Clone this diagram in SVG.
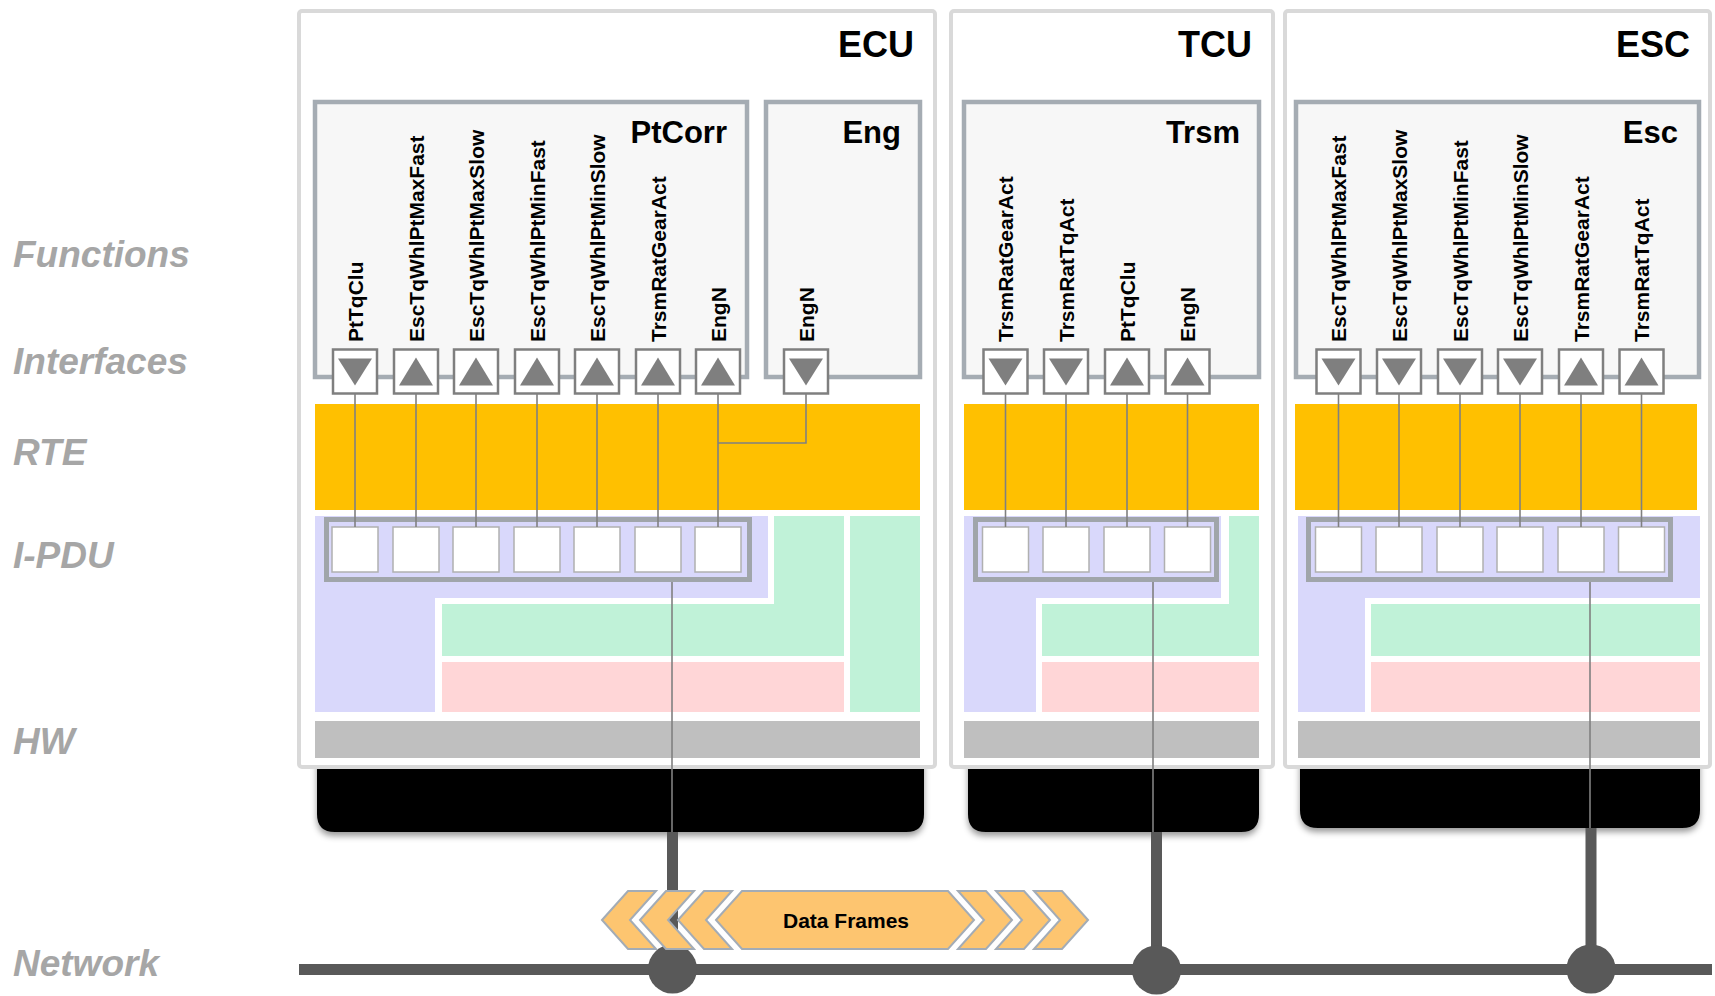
<svg xmlns="http://www.w3.org/2000/svg" xmlns:xlink="http://www.w3.org/1999/xlink" width="1715" height="996" viewBox="0 0 1715 996">
  <style>
    .layer { font-family: "Liberation Sans", Arial, sans-serif; font-weight: bold; font-style: italic; font-size: 37px; fill: #a6a6a6; }
    .title { font-family: "Liberation Sans", Arial, sans-serif; font-weight: bold; font-size: 36px; fill: #000; text-anchor: end; }
    .swc-name { font-family: "Liberation Sans", Arial, sans-serif; font-weight: bold; font-size: 31px; fill: #000; text-anchor: end; }
    .sig { font-family: "Liberation Sans", Arial, sans-serif; font-weight: bold; font-size: 21px; fill: #000; }
    .df { font-family: "Liberation Sans", Arial, sans-serif; font-weight: bold; font-size: 21px; fill: #000; text-anchor: middle; }
    .ecu { fill: #fff; stroke: #d9d9d9; stroke-width: 4; }
    .swc { fill: #f7f7f7; stroke: #a5acb3; stroke-width: 4.5; }
    .rte { fill: #ffc000; }
    .com { fill: #d9d8fb; }
    .drv { fill: #c0f2d8; }
    .mcal { fill: #ffd6d7; }
    .hw { fill: #bfbfbf; }
    .board { fill: #050505; filter: url(#shadow); }
    .frame { fill: none; stroke: #a0a5aa; stroke-width: 5; }
    .wire { fill: none; stroke: #808080; stroke-width: 1.6; }
    .bus { fill: none; stroke: #595959; stroke-width: 11; }
    .node { fill: #595959; }
    .chev { fill: #fdc570; stroke: #a3acb6; stroke-width: 2; stroke-linejoin: miter; }
  </style>
  <defs>
    <filter id="shadow" x="-5%" y="-20%" width="110%" height="150%">
      <feDropShadow dx="0" dy="4" stdDeviation="3" flood-color="#000" flood-opacity="0.4"/>
    </filter>
    <!-- receiver port (arrow down) and sender port (arrow up) -->
    <g id="portIn">
      <rect x="-22" y="0" width="44" height="44" fill="#fff" stroke="#7f7f7f" stroke-width="2.5"/>
      <path d="M-17,9 H17 L0,36 Z" fill="#7f7f7f"/>
    </g>
    <g id="portOut">
      <rect x="-22" y="0" width="44" height="44" fill="#fff" stroke="#7f7f7f" stroke-width="2.5"/>
      <path d="M-17,36 H17 L0,8 Z" fill="#7f7f7f"/>
    </g>
    <!-- signal slot inside an I-PDU -->
    <rect id="slot" x="-23" y="0" width="46" height="45" fill="#fff" stroke="#b0b0b0" stroke-width="1.5"/>
  </defs>

  <rect width="1715" height="996" fill="#fff"/>

  <!-- layer captions -->
  <g id="layers">
    <text class="layer" x="13" y="267">Functions</text>
    <text class="layer" x="13" y="374">Interfaces</text>
    <text class="layer" x="13" y="465">RTE</text>
    <text class="layer" x="13" y="568">I-PDU</text>
    <text class="layer" x="13" y="754">HW</text>
    <text class="layer" x="13" y="976">Network</text>
  </g>

  <!-- ECU -->
  <g id="ecu">
    <path class="board" d="M317,740 H924 V814 Q924,832 906,832 H335 Q317,832 317,814 Z"/>
    <rect class="ecu" x="299" y="11" width="636" height="756" rx="3"/>
    <text class="title" x="914" y="57">ECU</text>
    <rect class="rte" x="315" y="404" width="605" height="106"/>
    <path class="com" d="M315,516 H768 V598 H435 V712 H315 Z"/>
    <path class="drv" d="M774,516 H844 V656 H442 V604 H774 Z"/>
    <rect class="drv" x="850" y="516" width="70" height="196"/>
    <rect class="mcal" x="442" y="662" width="402" height="50"/>
    <rect class="hw" x="315" y="721" width="605" height="37"/>
    <rect class="frame" x="326.5" y="519.5" width="423" height="60"/>
    <use href="#slot" x="355" y="527"/>
    <use href="#slot" x="416" y="527"/>
    <use href="#slot" x="476" y="527"/>
    <use href="#slot" x="537" y="527"/>
    <use href="#slot" x="597" y="527"/>
    <use href="#slot" x="658" y="527"/>
    <use href="#slot" x="718" y="527"/>
  </g>
  <g id="ecu-ptcorr">
    <rect class="swc" x="315" y="102" width="432" height="275"/>
    <text class="swc-name" x="727" y="143">PtCorr</text>
    <text class="sig" transform="translate(362.5,342) rotate(-90)">PtTqClu</text>
    <text class="sig" transform="translate(423.5,342) rotate(-90)">EscTqWhlPtMaxFast</text>
    <text class="sig" transform="translate(483.5,342) rotate(-90)">EscTqWhlPtMaxSlow</text>
    <text class="sig" transform="translate(544.5,342) rotate(-90)">EscTqWhlPtMinFast</text>
    <text class="sig" transform="translate(604.5,342) rotate(-90)">EscTqWhlPtMinSlow</text>
    <text class="sig" transform="translate(665.5,342) rotate(-90)">TrsmRatGearAct</text>
    <text class="sig" transform="translate(725.5,342) rotate(-90)">EngN</text>
    <use href="#portIn" x="355" y="349.5"/>
    <use href="#portOut" x="416" y="349.5"/>
    <use href="#portOut" x="476" y="349.5"/>
    <use href="#portOut" x="537" y="349.5"/>
    <use href="#portOut" x="597" y="349.5"/>
    <use href="#portOut" x="658" y="349.5"/>
    <use href="#portOut" x="718" y="349.5"/>
  </g>
  <g id="ecu-eng">
    <rect class="swc" x="766" y="102" width="154" height="275"/>
    <text class="swc-name" x="901" y="143">Eng</text>
    <text class="sig" transform="translate(813.5,342) rotate(-90)">EngN</text>
    <use href="#portIn" x="806" y="349.5"/>
  </g>

  <!-- TCU -->
  <g id="tcu">
    <path class="board" d="M968,740 H1259 V814 Q1259,832 1241,832 H986 Q968,832 968,814 Z"/>
    <rect class="ecu" x="951" y="11" width="322" height="756" rx="3"/>
    <text class="title" x="1252" y="57">TCU</text>
    <rect class="rte" x="964" y="404" width="295" height="106"/>
    <path class="com" d="M964,516 H1221 V598 H1036 V712 H964 Z"/>
    <path class="drv" d="M1229,516 H1259 V656 H1042 V604 H1229 Z"/>
    <rect class="mcal" x="1042" y="662" width="217" height="50"/>
    <rect class="hw" x="964" y="721" width="295" height="37"/>
    <rect class="frame" x="975.5" y="519.5" width="241" height="60"/>
    <use href="#slot" x="1005.5" y="527"/>
    <use href="#slot" x="1066" y="527"/>
    <use href="#slot" x="1127" y="527"/>
    <use href="#slot" x="1187.5" y="527"/>
  </g>
  <g id="tcu-trsm">
    <rect class="swc" x="964" y="102" width="295" height="275"/>
    <text class="swc-name" x="1240" y="143">Trsm</text>
    <text class="sig" transform="translate(1013,342) rotate(-90)">TrsmRatGearAct</text>
    <text class="sig" transform="translate(1073.5,342) rotate(-90)">TrsmRatTqAct</text>
    <text class="sig" transform="translate(1134.5,342) rotate(-90)">PtTqClu</text>
    <text class="sig" transform="translate(1195,342) rotate(-90)">EngN</text>
    <use href="#portIn" x="1005.5" y="349.5"/>
    <use href="#portIn" x="1066" y="349.5"/>
    <use href="#portOut" x="1127" y="349.5"/>
    <use href="#portOut" x="1187.5" y="349.5"/>
  </g>

  <!-- ESC -->
  <g id="esc">
    <path class="board" d="M1300,740 H1700 V810 Q1700,828 1682,828 H1318 Q1300,828 1300,810 Z"/>
    <rect class="ecu" x="1285" y="11" width="425" height="756" rx="3"/>
    <text class="title" x="1690" y="57">ESC</text>
    <rect class="rte" x="1295" y="404" width="402" height="106"/>
    <path class="com" d="M1298,516 H1700 V598 H1365 V712 H1298 Z"/>
    <rect class="drv" x="1371" y="604" width="329" height="52"/>
    <rect class="mcal" x="1371" y="662" width="329" height="50"/>
    <rect class="hw" x="1298" y="721" width="402" height="37"/>
    <rect class="frame" x="1308.5" y="519.5" width="362" height="60"/>
    <use href="#slot" x="1338.5" y="527"/>
    <use href="#slot" x="1399" y="527"/>
    <use href="#slot" x="1460" y="527"/>
    <use href="#slot" x="1520" y="527"/>
    <use href="#slot" x="1581" y="527"/>
    <use href="#slot" x="1641.5" y="527"/>
  </g>
  <g id="esc-esc">
    <rect class="swc" x="1296" y="102" width="403" height="275"/>
    <text class="swc-name" x="1678" y="143">Esc</text>
    <text class="sig" transform="translate(1346,342) rotate(-90)">EscTqWhlPtMaxFast</text>
    <text class="sig" transform="translate(1406.5,342) rotate(-90)">EscTqWhlPtMaxSlow</text>
    <text class="sig" transform="translate(1467.5,342) rotate(-90)">EscTqWhlPtMinFast</text>
    <text class="sig" transform="translate(1527.5,342) rotate(-90)">EscTqWhlPtMinSlow</text>
    <text class="sig" transform="translate(1588.5,342) rotate(-90)">TrsmRatGearAct</text>
    <text class="sig" transform="translate(1649,342) rotate(-90)">TrsmRatTqAct</text>
    <use href="#portIn" x="1338.5" y="349.5"/>
    <use href="#portIn" x="1399" y="349.5"/>
    <use href="#portIn" x="1460" y="349.5"/>
    <use href="#portIn" x="1520" y="349.5"/>
    <use href="#portOut" x="1581" y="349.5"/>
    <use href="#portOut" x="1641.5" y="349.5"/>
  </g>

  <!-- connectors: port-to-slot mappings, I-PDU to bus, the bus itself -->
  <g id="connectors">
    <path class="wire" d="M355,394 V527 M416,394 V527 M476,394 V527 M537,394 V527 M597,394 V527 M658,394 V527 M718,394 V527"/>
    <path class="wire" d="M806,394 V443 H718"/>
    <path class="wire" d="M1005.5,394 V527 M1066,394 V527 M1127,394 V527 M1187.5,394 V527"/>
    <path class="wire" d="M1338.5,394 V527 M1399,394 V527 M1460,394 V527 M1520,394 V527 M1581,394 V527 M1641.5,394 V527"/>
    <path class="wire" d="M672,582 V832 M1153,582 V832 M1590,582 V828"/>
    <path class="bus" d="M672.5,832 V969 M1156.5,832 V970 M1591,828 V969"/>
    <path class="bus" d="M299,969.5 H1712"/>
    <circle class="node" cx="672.5" cy="969" r="24.5"/>
    <circle class="node" cx="1156.5" cy="970" r="24.5"/>
    <circle class="node" cx="1591" cy="969" r="24.5"/>
  </g>

  <!-- frames travelling on the bus -->
  <g id="data-frames">
    <path class="chev" d="M602,920 L628,891 H656 L630,920 L656,949 H628 Z"/>
    <path class="chev" d="M640,920 L666,891 H694 L668,920 L694,949 H666 Z"/>
    <path class="chev" d="M678,920 L704,891 H732 L706,920 L732,949 H704 Z"/>
    <path class="chev" d="M716,920 L742,891 H948 L974,920 L948,949 H742 Z"/>
    <path class="chev" d="M1012,920 L986,891 H958 L984,920 L958,949 H986 Z"/>
    <path class="chev" d="M1050,920 L1024,891 H996 L1022,920 L996,949 H1024 Z"/>
    <path class="chev" d="M1088,920 L1062,891 H1034 L1060,920 L1034,949 H1062 Z"/>
    <text class="df" x="846" y="928">Data Frames</text>
  </g>
</svg>
